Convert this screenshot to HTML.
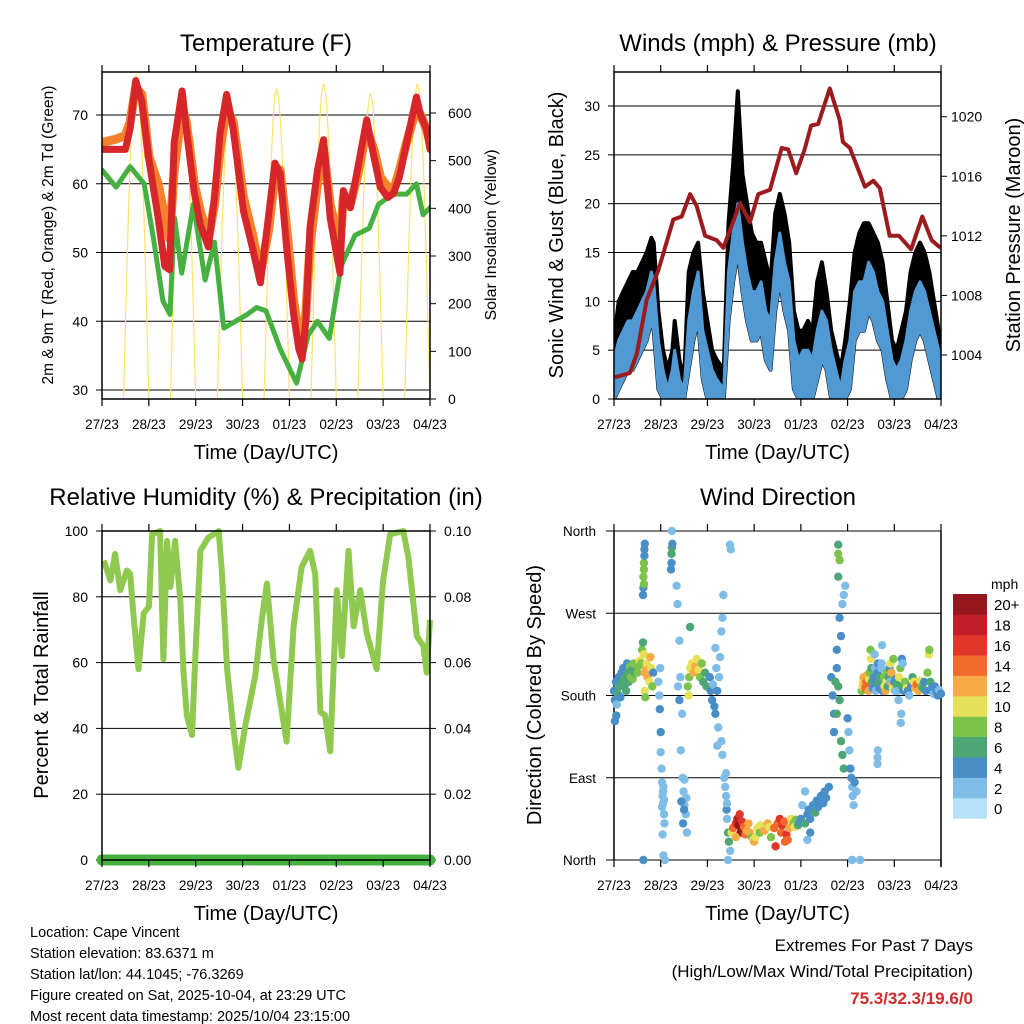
<!DOCTYPE html>
<html><head><meta charset="utf-8"><style>
body{margin:0;background:#fff;}
svg{display:block;font-family:"Liberation Sans",sans-serif;}
</style></head><body>
<svg id="c" width="1024" height="1024" viewBox="0 0 1024 1024" xmlns="http://www.w3.org/2000/svg"></svg>
<script>
// ---------- DATA ----------
const dayLabels = ["27/23","28/23","29/23","30/23","01/23","02/23","03/23","04/23"];
// Temperature (F)
const tRedT = [0,0.3,0.5,0.6,0.72,0.85,1.0,1.2,1.34,1.44,1.54,1.71,1.8,1.97,2.1,2.27,2.4,2.52,2.66,2.8,3.02,3.2,3.38,3.55,3.69,3.8,3.95,4.09,4.2,4.27,4.35,4.44,4.6,4.73,4.87,5.0,5.08,5.15,5.3,5.45,5.65,5.8,5.94,6.1,6.22,6.35,6.5,6.71,6.8,6.92,7.0];
const temp2m = [65,65,65,68,75,72,63.5,55,48,47.5,66,73.5,68,58.7,54,50.8,58,67.4,73,68,56,51,45.6,55,63,61.5,50,41,36,34.5,40,53.7,62,66.4,55,50,47,59,56.5,62,69.3,64,59.5,58,58.6,61,66,72.6,70,68,65];
const temp9m = [66,66.5,67,69,74,73,64,60,55,52,62,71,69,60,56,52,57,65,71,69,58,53,47,53,61,62,53,43,38,37,41,51,60,65,57,53,51,58,57,61,68,65,61,59.5,59,62,66,71,70,68,66];
const dewT = [0,0.3,0.6,0.9,1.1,1.3,1.45,1.55,1.7,1.95,2.2,2.4,2.6,2.85,3.1,3.3,3.5,3.8,4.15,4.4,4.6,4.85,5.1,5.4,5.7,5.9,6.2,6.5,6.71,6.85,7.0];
const dewVals = [62,59.5,62.5,60,52,43,41,55,47,57,46,51.5,39,40,41,42,41.5,36,31,38,40,37.5,48,52.5,53.5,57,58.5,58.5,60,55.5,56.5];
const solarPeaks = [680,650,625,650,660,640,660];
const tempTicks = [30,40,50,60,70];
const solarTicks = [0,100,200,300,400,500,600];
// Winds & pressure
const windT = [0,0.1,0.2,0.3,0.4,0.5,0.6,0.7,0.8,0.85,0.95,1.05,1.15,1.25,1.3,1.4,1.5,1.6,1.7,1.8,1.9,2.0,2.1,2.2,2.35,2.45,2.55,2.65,2.75,2.85,2.95,3.05,3.15,3.25,3.35,3.45,3.55,3.65,3.75,3.85,3.95,4.05,4.15,4.25,4.35,4.45,4.55,4.65,4.75,4.85,4.95,5.05,5.15,5.25,5.35,5.45,5.55,5.65,5.75,5.85,5.95,6.05,6.15,6.25,6.35,6.45,6.55,6.65,6.75,6.85,6.95,7.0];
const windSpeed = [4,6,7,8,8,9,10,11,13,12,6,3,1,3,5,2,1,8,11,13,7,5,3,2,1,13,17,20,16,13,11,11,12,9,8,14,17,14,12,6,4,5,5,4,7,9,8,5,3,1,4,6,11,12,12,14,13,11,10,7,4,3,4,6,9,11,12,11,9,7,5,3];
const windGust = [6,10,11,12,13,13,14,15,16.5,16,9,5,3,5,8,4,2,13,15,16,11,8,5,4,3,18,24,31.5,23,20,17,16,16,14,12,19,21,19,16,9,7,7,8,7,12,14,11,7,5,3,6,10,15,17,18,18,17,16,14,10,6,5,7,9,13,15,16,15,13,10,7,5];
const presT = [0.02,0.34,0.49,0.7,0.95,1.27,1.45,1.63,1.77,1.95,2.2,2.34,2.7,2.91,3.09,3.34,3.59,3.73,3.9,4.08,4.22,4.37,4.62,4.83,4.9,5.05,5.37,5.55,5.69,5.9,6.1,6.36,6.6,6.8,6.95,7.0];
const presVals = [1002.5,1002.8,1004.1,1007.7,1009.7,1013.1,1013.3,1014.8,1014.0,1012,1011.7,1011.2,1014.2,1012.9,1014.8,1015.1,1017.9,1017.8,1016.2,1017.8,1019.4,1019.5,1021.9,1019.8,1018.3,1017.9,1015.3,1015.7,1015.2,1012,1012,1011.1,1013.3,1011.7,1011.3,1011.2];
const windTicks = [0,5,10,15,20,25,30];
const presTicks = [1004,1008,1012,1016,1020];
// Humidity
const rhT = [0.04,0.18,0.28,0.39,0.53,0.6,0.68,0.78,0.89,1.0,1.07,1.24,1.31,1.39,1.46,1.56,1.67,1.74,1.81,1.92,1.99,2.1,2.27,2.49,2.56,2.67,2.81,2.91,3.06,3.27,3.41,3.52,3.66,3.84,3.94,4.09,4.26,4.44,4.55,4.66,4.76,4.87,5.01,5.12,5.26,5.37,5.51,5.65,5.86,6.0,6.15,6.43,6.54,6.72,6.86,6.93,7.0];
const rhVals = [91,85,93,82,88,87,73,58,75,77,99,100,61,97,83,97,79,57,44,38,61,94,98,100,87,58,39,28,41,56,73,84,61,45,36,71,89,94,87,45,44,33,82,62,94,71,82,69,58,85,99,100,92,68,65,57,73];
const rainT = [0,7];
const rainVals = [0,0];
const rhTicks = [0,20,40,60,80,100];
const rainTicks = ["0.00","0.02","0.04","0.06","0.08","0.10"];
// Wind direction scatter
const wdT = [0,0.02,0.04,0.06,0.08,0.1,0.12,0.14,0.16,0.18,0.2,0.22,0.24,0.26,0.28,0.3,0.32,0.34,0.36,0.38,0.4,0.42,0.44,0.02,0.05,
0.5,0.52,0.55,0.58,0.6,0.62,0.64,0.66,0.68,0.7,0.72,0.74,0.76,0.78,0.8,0.82,0.84,0.66,0.67,
0.62,0.63,0.63,0.64,0.64,0.65,0.65,0.66,0.64,0.63,
0.95,0.97,0.98,1.0,1.0,1.02,1.03,1.04,1.05,1.06,1.07,1.08,1.04,1.06,1.09,1.03,0.99,1.05,1.07,
1.22,1.23,1.23,1.24,1.25,1.24,
1.34,1.36,1.4,1.42,1.46,1.43,1.47,1.49,1.51,1.54,1.48,1.51,1.55,1.56,1.44,1.5,1.37,1.4,
1.58,1.61,1.63,1.67,1.7,1.74,1.77,1.81,1.84,1.88,1.91,1.95,1.63,1.6,1.98,
2.05,2.07,2.1,2.12,2.15,2.17,2.19,2.21,2.23,2.25,2.27,2.3,2.32,2.34,2.3,2.32,2.21,2.17,
2.36,2.38,2.4,2.41,2.42,2.44,2.46,2.44,2.48,2.5,2.49,2.4,2.42,
2.52,2.55,2.61,2.64,2.67,2.71,2.74,2.78,2.81,2.84,2.88,2.91,2.95,2.98,2.61,2.69,
3.0,3.03,3.07,3.12,3.14,3.22,3.29,3.32,3.36,3.43,3.5,3.55,3.58,3.6,3.65,3.69,3.72,3.75,3.79,3.84,3.86,3.89,3.94,3.98,3.46,3.66,
4.0,4.03,4.09,4.14,4.17,4.2,4.26,4.31,4.34,4.37,4.43,4.48,4.51,4.54,4.6,4.2,4.14,4.09,
4.65,4.68,4.71,4.71,4.74,4.77,4.77,4.8,4.83,4.86,4.83,4.89,4.92,4.95,4.86,4.89,4.8,4.8,4.83,4.8,4.92,4.77,
5.0,5.02,5.04,5.06,5.08,5.1,5.11,5.13,5.15,5.19,5.1,5.27,
5.3,5.32,5.33,5.34,5.36,5.38,5.4,5.41,5.43,5.45,5.46,5.47,5.49,5.5,5.51,5.52,5.54,5.56,5.58,5.59,5.6,5.62,5.64,5.65,5.66,5.68,5.7,5.72,5.73,5.74,5.75,5.77,5.78,5.79,5.81,5.83,5.84,5.86,5.88,5.9,5.91,5.92,5.94,5.96,5.97,5.98,6.0,6.02,6.04,6.05,6.07,6.09,5.64,5.64,5.65,
6.1,6.13,6.16,6.2,6.23,6.26,6.29,6.32,6.36,6.39,6.42,6.45,6.48,6.52,6.55,6.58,6.61,6.64,6.68,6.71,6.74,6.75,6.77,6.8,6.84,6.87,6.9,6.93,6.96,7.0,6.16,6.18,6.15,6.14];
const wdDir = [185,175,195,170,182,200,190,178,205,195,210,190,200,185,215,205,195,212,200,208,198,215,205,152,158,
205,212,218,215,230,238,225,205,210,215,200,208,195,222,210,190,205,185,178,
290,298,310,318,325,333,340,346,302,0,
195,180,165,140,118,100,85,70,62,80,50,40,28,5,0,58,210,75,66,
318,325,335,342,346,360,
300,280,240,200,160,120,90,75,60,50,40,88,68,30,64,55,190,175,
190,200,210,215,205,212,220,208,200,215,195,205,255,180,190,
200,185,175,192,168,160,210,185,145,200,222,250,265,290,130,115,125,232,
90,80,70,55,45,30,20,0,345,340,10,95,62,
30,35,40,45,38,30,42,36,28,32,40,30,25,22,25,50,
20,25,35,30,38,32,40,36,25,35,40,45,30,38,42,28,22,35,45,40,36,44,38,42,15,20,
45,60,40,50,55,45,60,52,65,58,70,62,75,68,80,30,22,75,
200,180,160,140,195,210,230,190,175,245,265,280,290,300,130,115,345,335,328,310,100,160,
155,140,120,100,90,80,70,60,85,75,0,0,
185,190,195,200,192,188,195,202,190,185,198,205,230,220,210,195,188,200,225,210,185,195,205,215,192,188,200,210,215,235,185,195,200,190,185,195,205,190,200,210,195,215,205,192,188,220,195,185,198,192,185,175,105,112,120,
200,210,190,185,195,188,185,180,190,200,195,188,192,185,196,190,188,195,185,205,225,230,195,188,182,190,185,180,186,182,220,215,160,150];
const wdSpd = [4,4,3,2,5,4,5,4,4,6,4,6,5,6,4,6,6,7,8,6,8,7,5,3,3,
8,7,9,8,7,6,10,12,11,10,12,11,9,12,10,8,4,10,7,
4,4,7,8,7,4,4,4,8,4,
2,2,4,4,2,2,2,2,1,1,2,2,1,2,1,1,2,1,2,
4,4,6,6,4,1,
1,1,2,2,2,1,1,2,2,2,3,2,2,1,4,4,2,3,
8,8,10,10,11,12,10,9,8,8,6,6,6,10,6,
4,4,4,2,3,4,2,4,2,2,2,1,1,1,1,1,2,2,
1,2,2,3,1,5,6,1,1,1,1,1,2,
10,14,16,18,20,20,16,14,14,12,12,12,8,10,12,16,
12,10,10,8,10,12,12,10,8,14,14,16,14,16,14,16,14,12,10,8,10,8,6,4,16,14,
4,2,6,4,4,4,4,6,4,4,4,4,4,4,4,4,2,2,
4,4,4,4,6,4,4,6,6,4,4,2,2,2,6,6,6,8,8,6,6,6,
4,2,2,4,4,2,2,2,4,2,1,1,
8,10,10,12,12,14,14,12,14,12,10,8,8,10,6,6,4,4,2,2,2,4,4,4,6,4,6,2,2,2,4,6,8,10,12,10,8,6,6,4,2,10,12,12,10,8,4,2,4,6,2,2,2,2,2,
10,8,6,4,8,10,4,2,4,6,10,12,14,12,10,8,6,4,4,8,10,8,6,4,2,4,4,4,2,4,4,2,2,2];
const dirTicks = [0,90,180,270,360];
const dirLabels = ["North","East","South","West","North"];
const speedColors = ["#b5e2f8","#80bde6","#4a8ec8","#4ca775","#7cc34b","#e7e15a","#f8aa46","#f26a2b","#e1372b","#c11f28","#95161c"];
const speedLabels = ["0","2","4","6","8","10","12","14","16","18","20+"];

// ---------- HELPERS ----------
const svg = document.getElementById('c');
const NS = "http://www.w3.org/2000/svg";
function mk(tag, attrs, parent){
  const e = document.createElementNS(NS, tag);
  for (const k in attrs) e.setAttribute(k, attrs[k]);
  (parent||svg).appendChild(e);
  return e;
}
function txt(str, x, y, size, anchor, parent, rot, color){
  const t = mk('text', {x:x, y:y, 'font-size':size, 'text-anchor':anchor||'middle', fill:color||'#000'}, parent);
  if (rot) t.setAttribute('transform', `rotate(${rot} ${x} ${y})`);
  t.textContent = str;
  return t;
}
function lin(d0,d1,r0,r1){ return v => r0 + (v-d0)/(d1-d0)*(r1-r0); }
function pts(xs, ys, fx, fy){ return xs.map((t,i)=>fx(t).toFixed(1)+','+fy(ys[i]).toFixed(1)).join(' '); }

function frame(g, x0, x1, y0, y1, name){
  const r = mk('rect', {x:x0, y:y0, width:x1-x0, height:y1-y0, fill:'none', stroke:'#000', 'stroke-width':1.5}, g);
  
  
}
function xAxis(g, x0, x1, y0, y1){
  const fx = lin(0,7,x0,x1);
  const ax = mk('g', {}, g);
  
  
  dayLabels.forEach((lab,i)=>{
    const x = fx(i);
    mk('line', {x1:x, x2:x, y1:y1, y2:y1+7, stroke:'#000', 'stroke-width':1.2}, ax);
    mk('line', {x1:x, x2:x, y1:y0, y2:y0-7, stroke:'#000', 'stroke-width':1.2}, ax);
    const t = txt(lab, x, y1+30, 13.5, 'middle', ax);
    
    
  });
  const tt = txt('Time (Day/UTC)', (x0+x1)/2, y1+60, 20, 'middle', ax);
  
  
  return fx;
}

// ---------- PANEL 1: TEMPERATURE ----------
(function(){
  const X0=102, X1=430, Y0=72, Y1=399;
  const g = mk('g', {});
  
  
  const fx = lin(0,7,X0,X1);
  const fy = lin(30,70,390,115);
  const fs = lin(0,600,399,113);
  const title = txt('Temperature (F)', 266, 51, 24, 'middle', g);
  
  
  tempTicks.forEach(v=>{
    const y = fy(v);
    mk('line', {x1:X0, x2:X1, y1:y, y2:y, stroke:'#000', 'stroke-width':1}, g);
    mk('line', {x1:X0-6, x2:X0, y1:y, y2:y, stroke:'#000', 'stroke-width':1}, g);
    const t = txt(String(v), X0-14, y+5, 14, 'end', g);
    
    
  });
  solarTicks.forEach(v=>{
    const y = fs(v);
    mk('line', {x1:X1, x2:X1+6, y1:y, y2:y, stroke:'#000', 'stroke-width':1}, g);
    const t = txt(String(v), X1+18, y+5, 14, 'start', g);
    
    
  });
  const clip = mk('clipPath', {id:'clip1'}, g);
  mk('rect', {x:X0, y:Y0, width:X1-X0, height:Y1-Y0}, clip);
  const sg = mk('g', {'clip-path':'url(#clip1)'}, g);
  solarPeaks.forEach((pk,d)=>{
    const rise = d+0.46, set = d+1.0;
    const xs=[], ys=[];
    for (let k=0;k<=24;k++){ const f=k/24; xs.push(rise+(set-rise)*f); ys.push(pk*Math.sin(Math.PI*f)); }
    const p = mk('polyline', {points:pts(xs,ys,fx,fs), fill:'none', stroke:'#fbe26b', 'stroke-width':1.2}, sg);
    
    
  });
  const o = mk('polyline', {points:pts(tRedT,temp9m,fx,fy), fill:'none', stroke:'#f5812c', 'stroke-width':9, 'stroke-linejoin':'round', 'stroke-linecap':'round'}, sg);
  
  
  const dw = mk('polyline', {points:pts(dewT,dewVals,fx,fy), fill:'none', stroke:'#46b040', 'stroke-width':5, 'stroke-linejoin':'round', 'stroke-linecap':'round'}, sg);
  
  
  const r = mk('polyline', {points:pts(tRedT,temp2m,fx,fy), fill:'none', stroke:'#d7262a', 'stroke-width':7, 'stroke-linejoin':'round', 'stroke-linecap':'round'}, sg);
  
  
  frame(g, X0, X1, Y0, Y1, 'temperature-plot-frame');
  xAxis(g, X0, X1, Y0, Y1);
  const yl = txt('2m & 9m T (Red, Orange) & 2m Td (Green)', 53, 235, 15.5, 'middle', g, -90);
  
  
  const yr = txt('Solar Insolation (Yellow)', 496, 235, 16, 'middle', g, -90);
  
  
})();

// ---------- PANEL 2: WINDS & PRESSURE ----------
(function(){
  const X0=614, X1=941, Y0=72, Y1=399;
  const g = mk('g', {});
  
  
  const fx = lin(0,7,X0,X1);
  const fy = lin(0,30,399,106);
  const fp = lin(1004,1020,355,116.7);
  const title = txt('Winds (mph) & Pressure (mb)', 778, 51, 24, 'middle', g);
  
  
  windTicks.forEach(v=>{
    const y = fy(v);
    if (v>0) mk('line', {x1:X0, x2:X1, y1:y, y2:y, stroke:'#000', 'stroke-width':1}, g);
    mk('line', {x1:X0-6, x2:X0, y1:y, y2:y, stroke:'#000', 'stroke-width':1}, g);
    const t = txt(String(v), X0-14, y+5, 14, 'end', g);
    
    
  });
  presTicks.forEach(v=>{
    const y = fp(v);
    mk('line', {x1:X1, x2:X1+6, y1:y, y2:y, stroke:'#000', 'stroke-width':1}, g);
    const t = txt(String(v), X1+10, y+5, 14, 'start', g);
    
    
  });
  const clip = mk('clipPath', {id:'clip2'}, g);
  mk('rect', {x:X0, y:Y0-6, width:X1-X0, height:Y1-Y0+6}, clip);
  const sg = mk('g', {'clip-path':'url(#clip2)'}, g);
  const lower = windSpeed.map(v=>Math.max(0, v-5));
  const gp = pts(windT, windGust, fx, fy) + ' ' + pts(windT.slice().reverse(), lower.slice().reverse(), fx, fy);
  const ga = mk('polygon', {points:gp, fill:'#000', stroke:'#000', 'stroke-width':4, 'stroke-linejoin':'round'}, sg);
  
  
  const bp = pts(windT, windSpeed, fx, fy) + ' ' + pts(windT.slice().reverse(), lower.slice().reverse(), fx, fy);
  const ba = mk('polygon', {points:bp, fill:'#5199d3', stroke:'#5199d3', 'stroke-width':3, 'stroke-linejoin':'round'}, sg);
  
  
  const pr = mk('polyline', {points:pts(presT,presVals,fx,fp), fill:'none', stroke:'#9b1b1e', 'stroke-width':4, 'stroke-linejoin':'round'}, sg);
  
  
  frame(g, X0, X1, Y0, Y1, 'winds-plot-frame');
  xAxis(g, X0, X1, Y0, Y1);
  const yl = txt('Sonic Wind & Gust (Blue, Black)', 563, 235, 20, 'middle', g, -90);
  
  
  const yr = txt('Station Pressure (Maroon)', 1020, 235, 20, 'middle', g, -90);
  
  
})();

// ---------- PANEL 3: HUMIDITY ----------
(function(){
  const X0=102, X1=430, Y0=531, Y1=860;
  const g = mk('g', {});
  
  
  const fx = lin(0,7,X0,X1);
  const fy = lin(0,100,Y1,Y0);
  const title = txt('Relative Humidity (%) & Precipitation (in)', 266, 505, 24, 'middle', g);
  
  
  rhTicks.forEach((v,i)=>{
    const y = fy(v);
    mk('line', {x1:X0, x2:X1, y1:y, y2:y, stroke:'#000', 'stroke-width':1}, g);
    mk('line', {x1:X0-6, x2:X0, y1:y, y2:y, stroke:'#000', 'stroke-width':1}, g);
    mk('line', {x1:X1, x2:X1+6, y1:y, y2:y, stroke:'#000', 'stroke-width':1}, g);
    const t = txt(String(v), X0-14, y+5, 14, 'end', g);
    
    
    const t2 = txt(rainTicks[i], X1+14, y+5, 14, 'start', g);
    
    
  });
  const fr = lin(0,0.1,Y1,Y0);
  const rn = mk('polyline', {points:pts(rainT,rainVals,fx,fr), fill:'none', stroke:'#46b040', 'stroke-width':11, 'stroke-linecap':'round'}, g);
  
  
  const rh = mk('polyline', {points:pts(rhT,rhVals,fx,fy), fill:'none', stroke:'#8fc94f', 'stroke-width':6, 'stroke-linejoin':'round'}, g);
  
  
  frame(g, X0, X1, Y0, Y1, 'humidity-plot-frame');
  xAxis(g, X0, X1, Y0, Y1);
  const yl = txt('Percent & Total Rainfall', 48, 695, 20, 'middle', g, -90);
  
  
})();

// ---------- PANEL 4: WIND DIRECTION ----------
(function(){
  const X0=614, X1=941, Y0=531, Y1=860;
  const g = mk('g', {});
  
  
  const fx = lin(0,7,X0,X1);
  const fy = lin(0,360,Y1,Y0);
  const title = txt('Wind Direction', 778, 505, 24, 'middle', g);
  
  
  dirTicks.forEach((v,i)=>{
    const y = fy(v);
    mk('line', {x1:X0-8, x2:X1, y1:y, y2:y, stroke:'#000', 'stroke-width':1}, g);
    const t = txt(dirLabels[i], X0-18, y+5, 13.5, 'end', g);
    
    
  });
  mk('line', {x1:X0, x2:X0, y1:Y0, y2:Y1, stroke:'#000', 'stroke-width':1.5}, g);
  mk('line', {x1:X1, x2:X1, y1:Y0, y2:Y1+7, stroke:'#000', 'stroke-width':1.5}, g);
  const sg = mk('g', {}, g);
  
  
  wdT.forEach((t,i)=>{
    const ci = Math.min(10, Math.round(wdSpd[i]/2));
    const c = mk('circle', {cx:fx(t).toFixed(1), cy:fy(wdDir[i]).toFixed(1), r:4.2, fill:speedColors[ci]}, sg);
    
    
  });
  xAxis(g, X0, X1, Y0, Y1);
  const yl = txt('Direction (Colored By Speed)', 541, 695, 20, 'middle', g, -90);
  
  
  const lg = mk('g', {}, g);
  
  
  const lt = txt('mph', 991, 589, 14, 'start', lg);
  
  
  const bh = 20.4;
  speedColors.forEach((col,i)=>{
    const y = 594 + (10-i)*bh;
    const b = mk('rect', {x:953, y:y, width:34, height:bh+0.3, fill:col}, lg);
    
    
    const t = txt(speedLabels[i], 994, y+bh/2+6, 15, 'start', lg);
    
    
  });
})();

// ---------- FOOTER ----------
(function(){
  const g = mk('g', {});
  
  
  ["Location: Cape Vincent","Station elevation: 83.6371 m","Station lat/lon: 44.1045; -76.3269","Figure created on Sat, 2025-10-04, at 23:29 UTC","Most recent data timestamp: 2025/10/04 23:15:00"].forEach((s,i)=>{
    const t = txt(s, 30, 937+i*21, 14.5, 'start', g);
    
    
  });
  const e = mk('g', {});
  
  
  const a = txt('Extremes For Past 7 Days', 973, 951, 17, 'end', e);
  
  
  const b = txt('(High/Low/Max Wind/Total Precipitation)', 973, 977, 17, 'end', e);
  
  
  const c = txt('75.3/32.3/19.6/0', 973, 1004, 17, 'end', e, 0, '#d42a2a');
  c.setAttribute('font-weight', 'bold');
  
  
})();
</script>
</body></html>
